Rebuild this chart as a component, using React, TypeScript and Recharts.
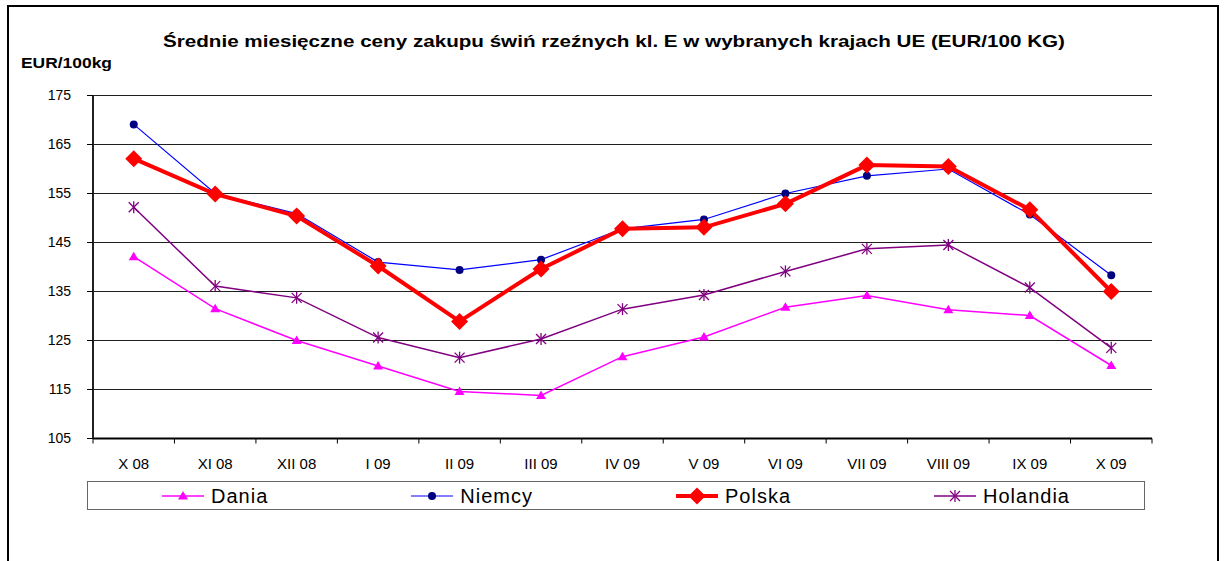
import { LineChart, Line, XAxis, YAxis, CartesianGrid } from "recharts";

const MONTHS = ["X 08", "XI 08", "XII 08", "I 09", "II 09", "III 09", "IV 09", "V 09", "VI 09", "VII 09", "VIII 09", "IX 09", "X 09"];
const DANIA = [142.1, 131.5, 125.0, 119.8, 114.6, 113.8, 121.7, 125.7, 131.8, 134.2, 131.3, 130.1, 119.9];
const NIEMCY = [169.1, 155.0, 150.9, 141.0, 139.4, 141.5, 147.8, 149.7, 155.0, 158.6, 160.0, 150.7, 138.3];
const POLSKA = [162.1, 154.9, 150.4, 140.2, 128.9, 139.6, 147.8, 148.1, 152.9, 160.8, 160.5, 151.7, 135.0];
const HOLANDIA = [152.2, 136.1, 133.7, 125.6, 121.5, 125.3, 131.4, 134.3, 139.1, 143.7, 144.5, 135.8, 123.5];
const Y_TICKS = [105, 115, 125, 135, 145, 155, 165, 175];

const DATA = MONTHS.map((m, i) => ({
  month: m,
  dania: DANIA[i],
  niemcy: NIEMCY[i],
  polska: POLSKA[i],
  holandia: HOLANDIA[i],
}));

const W = 1225;
const H = 561;
// half-pixel top/bottom so 1px gridlines come out crisp
const MARGIN = { top: 95.5, right: 73, bottom: 92.5, left: 33 };
const PLOT_W = W - MARGIN.left - 60 - MARGIN.right;
const STEP = PLOT_W / MONTHS.length;
const FONT = "'Liberation Sans', Arial, sans-serif";

// marker shapes
const triangle = (cx: number, cy: number, k?: any) => (
  <path key={k} d={`M${cx},${cy - 5} L${cx + 5},${cy + 3.5} L${cx - 5},${cy + 3.5} Z`} fill="#FF00FF" />
);
const circle = (cx: number, cy: number, k?: any) => <circle key={k} cx={cx} cy={cy} r={4} fill="#000080" />;
const diamond = (cx: number, cy: number, k?: any) => (
  <path key={k} d={`M${cx},${cy - 8.5} L${cx + 8.5},${cy} L${cx},${cy + 8.5} L${cx - 8.5},${cy} Z`} fill="#FF0000" />
);
const asterisk = (cx: number, cy: number, k?: any) => (
  <g key={k} stroke="#800080" strokeWidth={1.3}>
    <line x1={cx - 5} y1={cy - 5} x2={cx + 5} y2={cy + 5} />
    <line x1={cx - 5} y1={cy + 5} x2={cx + 5} y2={cy - 5} />
    <line x1={cx} y1={cy - 6} x2={cx} y2={cy + 6} />
  </g>
);

const SERIES = [
  { key: "dania", name: "Dania", color: "#FF00FF", width: 1.5, marker: triangle },
  { key: "niemcy", name: "Niemcy", color: "#0000FF", width: 1.2, marker: circle },
  { key: "polska", name: "Polska", color: "#FF0000", width: 4, marker: diamond },
  { key: "holandia", name: "Holandia", color: "#800080", width: 1.5, marker: asterisk },
];

function MonthTick(props: any) {
  const { x, y, payload, index } = props;
  const last = index === MONTHS.length - 1;
  return (
    <g>
      <line x1={x - STEP / 2} x2={x - STEP / 2} y1={y} y2={y + 5} stroke="#000" />
      {last && <line x1={x + STEP / 2} x2={x + STEP / 2} y1={y} y2={y + 5} stroke="#000" />}
      <text x={x} y={y + 30} textAnchor="middle" fontSize={15} fill="#000" fontFamily={FONT}>
        {payload.value}
      </text>
    </g>
  );
}

export default function App() {
  return (
    <div style={{ position: "absolute", left: 0, top: 0, width: W, height: H, background: "#fff", fontFamily: FONT, overflow: "hidden" }}>
      <div style={{ position: "absolute", left: 7, top: 5, width: 1212, height: 620, border: "2px solid #000", boxSizing: "border-box" }} />

      <div style={{ position: "absolute", left: 0, top: 0 }}>
        <LineChart width={W} height={H} data={DATA} margin={MARGIN}>
          <CartesianGrid vertical={false} stroke="#202020" />
          <XAxis
            dataKey="month"
            scale="band"
            interval={0}
            height={30}
            tickSize={0}
            tickMargin={0}
            tickLine={false}
            axisLine={{ stroke: "#000", strokeWidth: 2 }}
            tick={<MonthTick />}
          />
          <YAxis
            type="number"
            domain={[105, 175]}
            ticks={Y_TICKS}
            width={60}
            tickSize={6}
            tickMargin={16}
            tick={{ fill: "#000", fontSize: 14, fontFamily: FONT }}
            tickLine={{ stroke: "#000" }}
            axisLine={{ stroke: "#222", strokeWidth: 2 }}
          />
          <YAxis
            yAxisId="r"
            orientation="right"
            width={0}
            domain={[105, 175]}
            tick={false}
            tickLine={false}
            axisLine={{ stroke: "#808080" }}
          />
          {SERIES.map((s) => (
            <Line
              key={s.key}
              type="linear"
              dataKey={s.key}
              name={s.name}
              stroke={s.color}
              strokeWidth={s.width}
              dot={(p: any) => s.marker(p.cx, p.cy, `${s.key}-${p.index}`)}
              activeDot={false}
              isAnimationActive={false}
            />
          ))}
        </LineChart>
      </div>

      <svg width={W} height={H} style={{ position: "absolute", left: 0, top: 0, pointerEvents: "none" }}>
        <text x={163} y={47} fontSize={17} fontWeight="bold" fill="#000" textLength={902} lengthAdjust="spacingAndGlyphs">
          Średnie miesięczne ceny zakupu świń rzeźnych kl. E w wybranych krajach UE (EUR/100 KG)
        </text>
        <text x={21} y={68} fontSize={14.5} fontWeight="bold" fill="#000" textLength={91} lengthAdjust="spacingAndGlyphs">
          EUR/100kg
        </text>
      </svg>

      <div
        style={{
          position: "absolute",
          left: 87,
          top: 481,
          width: 1058,
          height: 29,
          border: "1px solid #666",
          boxSizing: "border-box",
          display: "flex",
          alignItems: "center",
          justifyContent: "center",
          gap: 143,
        }}
      >
        {SERIES.map((s) => (
          <div key={s.key} style={{ display: "flex", alignItems: "center" }}>
            <svg width={42} height={20} style={{ marginRight: 7 }}>
              <line x1={0} x2={42} y1={10} y2={10} stroke={s.color} strokeWidth={s.width} />
              {s.marker(21, 10)}
            </svg>
            <span style={{ fontSize: 20, letterSpacing: 1, lineHeight: "20px", color: "#000" }}>{s.name}</span>
          </div>
        ))}
      </div>
    </div>
  );
}
